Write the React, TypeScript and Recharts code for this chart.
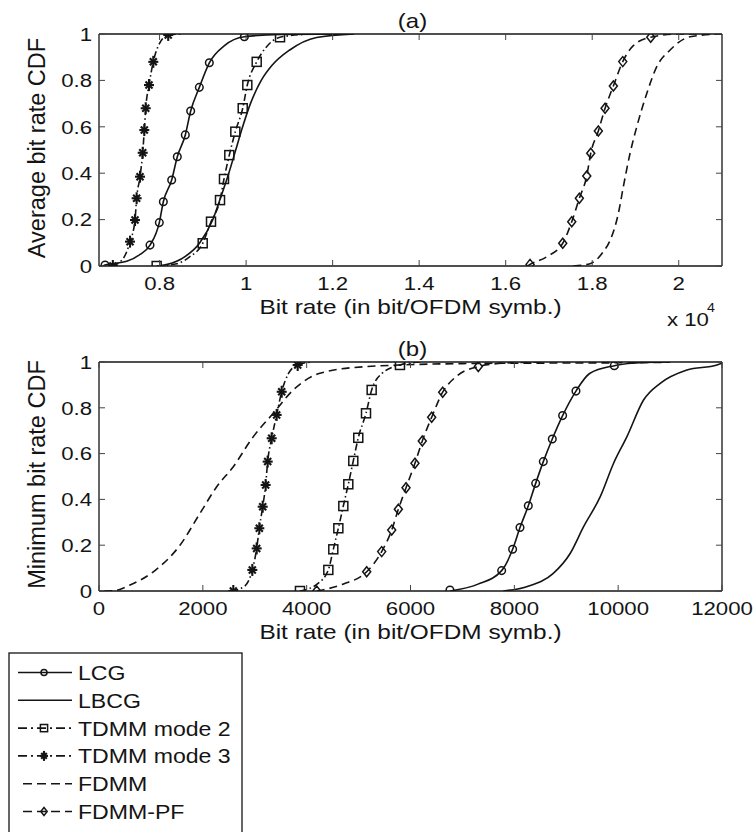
import React from "react";
import { ComposedChart, Line, Scatter, XAxis, YAxis, ReferenceLine, Label } from "recharts";

type Pt = [number, number];

// (a) average bit rate CDF, points are [bit/OFDM symb., CDF]
const lcgALine: Pt[] = [[6700, 0], [6740, 0.004], [7240, 0.02], [7550, 0.05], [7779, 0.09], [7994, 0.187], [8087, 0.277], [8280, 0.371], [8410, 0.471], [8595, 0.565], [8719, 0.668], [8919, 0.77], [9150, 0.876], [9500, 0.95], [9960, 0.988], [10800, 0.998], [12400, 1]];
const lcgAMarks: Pt[] = [[6740, 0.004], [7779, 0.09], [7994, 0.187], [8087, 0.277], [8280, 0.371], [8410, 0.471], [8595, 0.565], [8719, 0.668], [8919, 0.77], [9150, 0.876], [9960, 0.988]];
const lbcgALine: Pt[] = [[8000, 0], [8500, 0.03], [8930, 0.1], [9230, 0.2], [9420, 0.3], [9600, 0.4], [9760, 0.5], [9920, 0.6], [10100, 0.7], [10350, 0.8], [10600, 0.865], [11000, 0.93], [11630, 0.985], [12500, 1]];
const tdmm2ALine: Pt[] = [[7933, 0], [8400, 0.01], [8700, 0.04], [8997, 0.098], [9189, 0.191], [9397, 0.284], [9489, 0.375], [9612, 0.478], [9751, 0.579], [9922, 0.68], [10028, 0.78], [10245, 0.88], [10450, 0.94], [10784, 0.986], [11500, 1]];
const tdmm2AMarks: Pt[] = [[7933, 0], [8997, 0.098], [9189, 0.191], [9397, 0.284], [9489, 0.375], [9612, 0.478], [9751, 0.579], [9922, 0.68], [10028, 0.78], [10245, 0.88], [10784, 0.986]];
const tdmm3ALine: Pt[] = [[6900, 0], [7150, 0.03], [7317, 0.105], [7432, 0.198], [7470, 0.292], [7548, 0.385], [7610, 0.488], [7647, 0.586], [7680, 0.68], [7756, 0.78], [7855, 0.88], [8000, 0.96], [8200, 0.996], [8500, 1]];
const tdmm3AMarks: Pt[] = [[6920, 0], [7317, 0.105], [7432, 0.198], [7470, 0.292], [7548, 0.385], [7610, 0.488], [7647, 0.586], [7680, 0.68], [7756, 0.78], [7855, 0.88], [8200, 0.996]];
const fdmmALine: Pt[] = [[17564, 0], [17950, 0.01], [18250, 0.06], [18412, 0.11], [18605, 0.227], [18720, 0.342], [18875, 0.486], [19030, 0.6], [19261, 0.744], [19492, 0.859], [19800, 0.931], [20262, 0.988], [20950, 1]];
const fdmmPfALine: Pt[] = [[16500, 0], [16563, 0.007], [16950, 0.04], [17319, 0.098], [17527, 0.191], [17703, 0.292], [17874, 0.388], [17966, 0.486], [18142, 0.582], [18297, 0.68], [18489, 0.776], [18706, 0.881], [18950, 0.95], [19353, 0.986], [20000, 1], [21000, 1]];
const fdmmPfAMarks: Pt[] = [[16563, 0.007], [17319, 0.098], [17527, 0.191], [17703, 0.292], [17874, 0.388], [17966, 0.486], [18142, 0.582], [18297, 0.68], [18489, 0.776], [18706, 0.881], [19353, 0.986]];

// (b) minimum bit rate CDF
const lcgBLine: Pt[] = [[6760, 0], [7300, 0.03], [7756, 0.089], [7967, 0.182], [8109, 0.277], [8269, 0.372], [8411, 0.47], [8558, 0.565], [8731, 0.664], [8930, 0.766], [9187, 0.873], [9450, 0.95], [9925, 0.984], [10500, 0.998], [11000, 1]];
const lcgBMarks: Pt[] = [[6760, 0.004], [7756, 0.089], [7967, 0.182], [8109, 0.277], [8269, 0.372], [8411, 0.47], [8558, 0.565], [8731, 0.664], [8930, 0.766], [9187, 0.873], [9925, 0.984]];
const lbcgBLine: Pt[] = [[7787, 0], [8238, 0.019], [8750, 0.077], [9078, 0.165], [9334, 0.281], [9655, 0.412], [9912, 0.558], [10169, 0.674], [10489, 0.834], [10810, 0.907], [11324, 0.965], [11903, 0.987], [12000, 0.995]];
const tdmm2BLine: Pt[] = [[3871, 0], [4200, 0.03], [4417, 0.092], [4513, 0.182], [4610, 0.274], [4706, 0.371], [4802, 0.466], [4898, 0.568], [4994, 0.669], [5143, 0.776], [5252, 0.878], [5450, 0.95], [5797, 0.987], [6200, 1]];
const tdmm2BMarks: Pt[] = [[3871, 0], [4417, 0.092], [4513, 0.182], [4610, 0.274], [4706, 0.371], [4802, 0.466], [4898, 0.568], [4994, 0.669], [5143, 0.776], [5252, 0.878], [5797, 0.987]];
const tdmm3BLine: Pt[] = [[2550, 0], [2800, 0.02], [2953, 0.092], [3037, 0.186], [3088, 0.274], [3153, 0.368], [3210, 0.463], [3249, 0.565], [3326, 0.667], [3422, 0.769], [3519, 0.87], [3650, 0.95], [3827, 0.987], [4100, 1]];
const tdmm3BMarks: Pt[] = [[2587, 0], [2953, 0.092], [3037, 0.186], [3088, 0.274], [3153, 0.368], [3210, 0.463], [3249, 0.565], [3326, 0.667], [3422, 0.769], [3519, 0.87], [3827, 0.987]];
const fdmmBLine: Pt[] = [[100, 0], [308, 0.002], [597, 0.026], [1046, 0.084], [1560, 0.2], [1945, 0.339], [2267, 0.455], [2587, 0.543], [2972, 0.674], [3357, 0.776], [3742, 0.878], [4256, 0.951], [5156, 0.98], [7000, 0.993], [10740, 0.998], [11000, 1]];
const fdmmPfBLine: Pt[] = [[4193, 0], [4700, 0.03], [5156, 0.084], [5445, 0.172], [5638, 0.266], [5766, 0.357], [5914, 0.451], [6086, 0.558], [6227, 0.655], [6408, 0.759], [6620, 0.868], [6900, 0.94], [7306, 0.98], [7800, 0.995], [8500, 1]];
const fdmmPfBMarks: Pt[] = [[4193, 0], [5156, 0.084], [5445, 0.172], [5638, 0.266], [5766, 0.357], [5914, 0.451], [6086, 0.558], [6227, 0.655], [6408, 0.759], [6620, 0.868], [7306, 0.98]];

const xTicksA = [8000, 10000, 12000, 14000, 16000, 18000, 20000];
const xTickLabelsA = ["0.8", "1", "1.2", "1.4", "1.6", "1.8", "2"];
const xTicksB = [0, 2000, 4000, 6000, 8000, 10000, 12000];
const xTickLabelsB = ["0", "2000", "4000", "6000", "8000", "10000", "12000"];
const yTicks = [0, 0.2, 0.4, 0.6, 0.8, 1];
const yTickLabels = ["0", "0.2", "0.4", "0.6", "0.8", "1"];
const names = ["LCG", "LBCG", "TDMM mode 2", "TDMM mode 3", "FDMM", "FDMM-PF"];

const FONT = '"Liberation Sans", Arial, Helvetica, sans-serif';
const INK = "#141414";
const DASH = "8 5";
const DASHDOT = "7 3 1.5 3";

type Kind = "circle" | "square" | "star" | "diamond" | "none";
interface Series { name: string; line: Pt[]; marks: Pt[]; dash?: string; kind: Kind }

const KINDS: Kind[] = ["circle", "none", "square", "star", "none", "diamond"];
const DASHES = [undefined, undefined, DASHDOT, DASHDOT, DASH, DASH];

const mk = (lines: Pt[][], marks: Pt[][]): Series[] =>
  names.map((name, i) => ({ name, line: lines[i], marks: marks[i], dash: DASHES[i], kind: KINDS[i] }));

const seriesA = mk(
  [lcgALine, lbcgALine, tdmm2ALine, tdmm3ALine, fdmmALine, fdmmPfALine],
  [lcgAMarks, [], tdmm2AMarks, tdmm3AMarks, [], fdmmPfAMarks]
);
const seriesB = mk(
  [lcgBLine, lbcgBLine, tdmm2BLine, tdmm3BLine, fdmmBLine, fdmmPfBLine],
  [lcgBMarks, [], tdmm2BMarks, tdmm3BMarks, [], fdmmPfBMarks]
);

const toXY = (pts: Pt[]) => pts.map(([x, y]) => ({ x, y }));

function Txt({ x, y, anchor = "middle", size, sx = 1, rotate, children }: any) {
  return (
    <text
      transform={`translate(${x},${y})${rotate ? ` rotate(${rotate})` : ""} scale(${sx},1)`}
      textAnchor={anchor}
      fontSize={size}
      fontFamily={FONT}
      fill={INK}
    >
      {children}
    </text>
  );
}

function Marker({ kind, cx, cy, s = 1 }: { kind: Kind; cx: number; cy: number; s?: number }) {
  const st = { fill: "none", stroke: INK, strokeWidth: 1.5 };
  if (kind === "circle") return <circle cx={cx} cy={cy} r={3.8 * s} {...st} />;
  if (kind === "square") return <rect x={cx - 4.5 * s} y={cy - 4.5 * s} width={9 * s} height={9 * s} {...st} />;
  if (kind === "diamond")
    return <path d={`M${cx},${cy - 5 * s}L${cx + 4 * s},${cy}L${cx},${cy + 5 * s}L${cx - 4 * s},${cy}Z`} {...st} />;
  if (kind === "star") {
    const r = 5 * s;
    const d = r * 0.7;
    return (
      <g stroke={INK} strokeWidth={2.1}>
        <line x1={cx - r} y1={cy} x2={cx + r} y2={cy} />
        <line x1={cx} y1={cy - r - 1} x2={cx} y2={cy + r + 1} />
        <line x1={cx - d} y1={cy - d} x2={cx + d} y2={cy + d} />
        <line x1={cx - d} y1={cy + d} x2={cx + d} y2={cy - d} />
      </g>
    );
  }
  return null;
}

const PLOT_W = 623;

interface PanelProps {
  series: Series[];
  domain: [number, number];
  ticks: number[];
  tickLabels: string[];
  title: string;
  yLabel: string;
  exp?: boolean;
  height: number;
  top: number;
  mt: number;
  xh: number;
}

function Panel({ series, domain, ticks, tickLabels, title, yLabel, exp, height, top, mt, xh }: PanelProps) {
  const plotH = height - mt - xh;

  const XTick = (p: any) => {
    const { x, y, payload } = p;
    const i = ticks.indexOf(payload.value);
    return (
      <g>
        <line x1={x} y1={y} x2={x} y2={y - 6} stroke="#444" />
        <line x1={x} y1={y - plotH} x2={x} y2={y - plotH + 6} stroke="#444" />
        <Txt x={x} y={y + 24} size={18.5} sx={1.2}>{tickLabels[i]}</Txt>
      </g>
    );
  };

  const YTick = (p: any) => {
    const { x, y, payload } = p;
    const i = yTicks.indexOf(payload.value);
    return (
      <g>
        <line x1={x} y1={y} x2={x + 6} y2={y} stroke="#444" />
        <line x1={x + PLOT_W} y1={y} x2={x + PLOT_W - 6} y2={y} stroke="#444" />
        <Txt x={x - 7} y={y + 6.7} anchor="end" size={18.5} sx={1.2}>{yTickLabels[i]}</Txt>
      </g>
    );
  };

  const XLab = (p: any) => {
    const vb = p.viewBox;
    const cx = vb.x + vb.width / 2;
    return (
      <g>
        <Txt x={cx + 2} y={vb.y - plotH - 6} size={20} sx={1.2}>{title}</Txt>
        <Txt x={cx} y={vb.y + 48} size={20} sx={1.22}>Bit rate (in bit/OFDM symb.)</Txt>
        {exp && (
          <g>
            <Txt x={vb.x + vb.width - 55} y={vb.y + 60} anchor="start" size={18.5} sx={1.2}>x 10</Txt>
            <Txt x={vb.x + vb.width - 15} y={vb.y + 46} anchor="start" size={13} sx={1.1}>4</Txt>
          </g>
        )}
      </g>
    );
  };

  const YLab = (p: any) => {
    const vb = p.viewBox;
    return (
      <Txt x={45} y={vb.y + vb.height / 2 - 2} size={23.5} rotate={-90}>
        {yLabel}
      </Txt>
    );
  };

  return (
    <div style={{ position: "absolute", left: 0, top }}>
      <ComposedChart width={755} height={height} margin={{ top: mt, right: 755 - 99 - PLOT_W, bottom: 0, left: 0 }}>
        <XAxis
          type="number"
          dataKey="x"
          domain={domain}
          ticks={ticks}
          interval={0}
          allowDataOverflow
          height={xh}
          tickSize={0}
          tickMargin={0}
          tickLine={false}
          axisLine={{ stroke: INK, strokeWidth: 1.3 }}
          tick={XTick}
        >
          <Label content={XLab} />
        </XAxis>
        <YAxis
          type="number"
          dataKey="y"
          domain={[0, 1]}
          ticks={yTicks}
          interval={0}
          allowDataOverflow
          width={99}
          tickSize={0}
          tickMargin={0}
          tickLine={false}
          axisLine={{ stroke: INK, strokeWidth: 1.3 }}
          tick={YTick}
        >
          <Label content={YLab} />
        </YAxis>
        <ReferenceLine y={1} stroke={INK} strokeWidth={1.3} />
        <ReferenceLine x={domain[1]} stroke={INK} strokeWidth={1.3} />
        {series.map((s) => (
          <Line
            key={s.name}
            data={toXY(s.line)}
            dataKey="y"
            type="monotone"
            stroke={INK}
            strokeWidth={1.6}
            strokeDasharray={s.dash}
            dot={false}
            activeDot={false}
            isAnimationActive={false}
          />
        ))}
        {series
          .filter((s) => s.marks.length > 0)
          .map((s) => (
            <Scatter
              key={s.name + "-m"}
              data={toXY(s.marks)}
              dataKey="y"
              isAnimationActive={false}
              shape={(p: any) => <Marker kind={s.kind} cx={p.cx} cy={p.cy} />}
            />
          ))}
      </ComposedChart>
    </div>
  );
}

function LegendBox() {
  return (
    <svg width={260} height={192} style={{ position: "absolute", left: 0, top: 640 }}>
      <rect x={9} y={13} width={233} height={200} fill="#fff" stroke={INK} strokeWidth={1.3} />
      {seriesA.map((s, i) => {
        const base = 40 + i * 27.8;
        const cy = base - 7.5;
        const x0 = s.dash === DASH ? 23 : 18;
        return (
          <g key={s.name}>
            <line
              x1={x0}
              y1={cy}
              x2={72}
              y2={cy}
              stroke={INK}
              strokeWidth={1.6}
              strokeDasharray={s.dash === DASH ? "9 5" : s.dash ? "9 4 2 4" : undefined}
            />
            <Marker kind={s.kind} cx={44} cy={cy} s={0.8} />
            <Txt x={78} y={base} anchor="start" size={21} sx={1.1}>{s.name}</Txt>
          </g>
        );
      })}
    </svg>
  );
}

export default function App() {
  return (
    <div style={{ position: "absolute", left: 0, top: 0, width: 755, height: 832, background: "#fff", overflow: "hidden" }}>
      <Panel
        series={seriesA}
        domain={[6600, 21000]}
        ticks={xTicksA}
        tickLabels={xTickLabelsA}
        title="(a)"
        yLabel="Average bit rate CDF"
        exp
        height={330}
        top={0}
        mt={34}
        xh={64}
      />
      <Panel
        series={seriesB}
        domain={[0, 12000]}
        ticks={xTicksB}
        tickLabels={xTickLabelsB}
        title="(b)"
        yLabel="Minimum bit rate CDF"
        height={320}
        top={330}
        mt={32}
        xh={59}
      />
      <LegendBox />
    </div>
  );
}
